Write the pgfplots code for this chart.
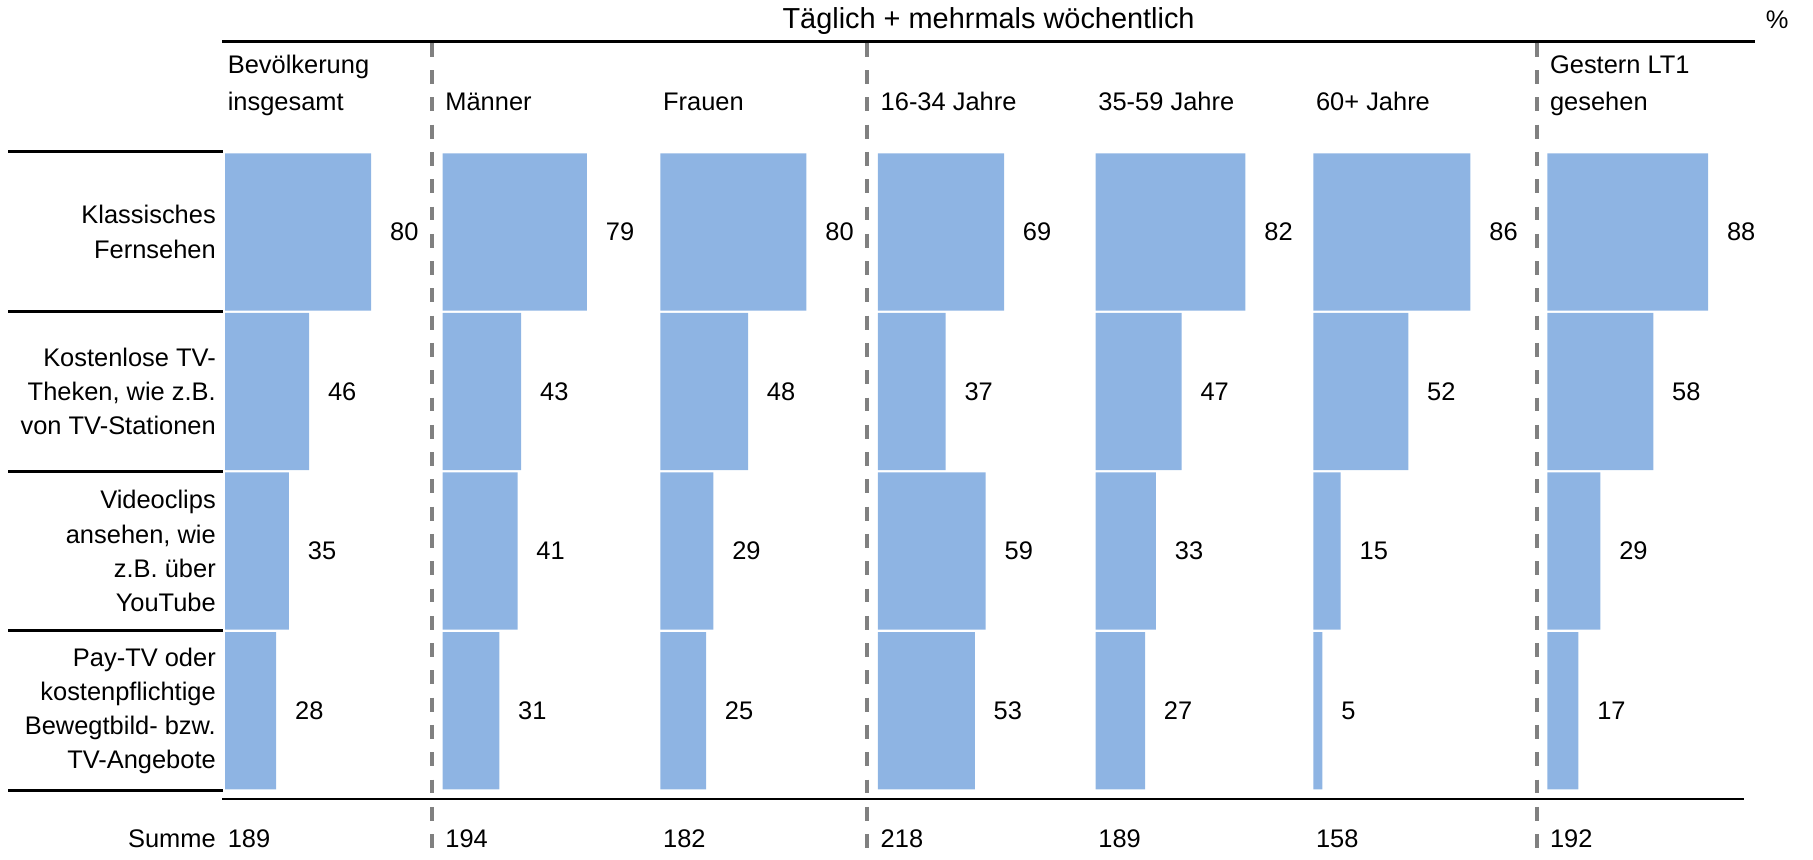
\documentclass[border=0pt]{standalone}
\usepackage{fontspec}
\setmainfont{Liberation Sans}
\usepackage{pgfplots}
\pgfplotsset{compat=1.18}
\usepackage{pgfplotstable}

\definecolor{barblue}{RGB}{142,180,227}
\definecolor{dashgray}{RGB}{128,128,128}

% Anteile in %, Zeilen = Angebote, Spalten = Zielgruppen
\pgfplotstableread{
row ges m f a1 a2 a3 lt1
0 80 79 80 69 82 86 88
1 46 43 48 37 47 52 58
2 35 41 29 59 33 15 29
3 28 31 25 53 27 5 17
}\anteile

\pgfplotsset{
  spalte/.style={
    anchor=north west,
    width=79pt, height=276pt, scale only axis,
    xmin=0, xmax=100, ymin=-0.5, ymax=3.5, y dir=reverse,
    hide axis, clip=false,
    xbar, bar width=68pt,
    point meta=x,
    nodes near coords,
    /pgf/number format/assume math mode=true,
    every node near coord/.append style={anchor=west, inner sep=0pt, xshift=8pt,
      font=\fontsize{11}{13}\selectfont, text=black},
  },
}
\newcommand{\spalte}[2]{%
  \begin{axis}[spalte, at={(#1pt,-65.8pt)}]
    \addplot[fill=barblue, draw=none] table[x=#2, y=row] {\anteile};
  \end{axis}}

\begin{document}
\begin{tikzpicture}[x=0.5pt, y=-0.5pt, font=\fontsize{11}{14.75}\selectfont]
\useasboundingbox (0,0) rectangle (1568,743);

\spalte{97.3}{ges}
\spalte{191.4}{m}
\spalte{285.55}{f}
\spalte{379.65}{a1}
\spalte{473.8}{a2}
\spalte{567.9}{a3}
\spalte{669.1}{lt1}

% Titel
\node[anchor=base, inner sep=0pt, font=\fontsize{12.5}{15}\selectfont] at (855,24.5) {Täglich + mehrmals wöchentlich};
\node[anchor=base, inner sep=0pt] at (1537,24.5) {\%};

% Linien
\draw[line width=1.2pt] (192,36) -- (1518,36);
\draw[line width=1pt] (192,691) -- (1508,691);
\foreach \yy in {131,269.5,407.5,545.5,683.8}
  \draw[line width=1.3pt] (7,\yy) -- (192.6,\yy);
\foreach \xx in {373.3,749.6,1329}
  \draw[dashgray, line width=1.7pt, dash pattern=on 6pt off 5.8pt] (\xx,37) -- (\xx,743);

% Spaltenkoepfe
\node[anchor=base west, inner sep=0pt] at (196.6,63.5) {Bevölkerung};
\node[anchor=base west, inner sep=0pt] at (196.6,96) {insgesamt};
\node[anchor=base west, inner sep=0pt] at (384.8,96) {Männer};
\node[anchor=base west, inner sep=0pt] at (573.1,96) {Frauen};
\node[anchor=base west, inner sep=0pt] at (761.3,96) {16-34 Jahre};
\node[anchor=base west, inner sep=0pt] at (949.6,96) {35-59 Jahre};
\node[anchor=base west, inner sep=0pt] at (1137.8,96) {60+ Jahre};
\node[anchor=base west, inner sep=0pt] at (1340.2,63.5) {Gestern LT1};
\node[anchor=base west, inner sep=0pt] at (1340.2,96) {gesehen};

% Zeilenbeschriftungen
\node[anchor=east, align=right, inner sep=0pt] at (187,200.6) {Klassisches\\Fernsehen};
\node[anchor=east, align=right, inner sep=0pt] at (187,338.6) {Kostenlose TV-\\Theken, wie z.B.\\von TV-Stationen};
\node[anchor=east, align=right, inner sep=0pt] at (187,476.6) {Videoclips\\ansehen, wie\\z.B. über\\YouTube};
\node[anchor=east, align=right, inner sep=0pt] at (187,614.6) {Pay-TV oder\\kostenpflichtige\\Bewegtbild- bzw.\\TV-Angebote};

% Summen
\node[anchor=base east, inner sep=0pt] at (187,733) {Summe};
\node[anchor=base west, inner sep=0pt] at (196.6,733) {189};
\node[anchor=base west, inner sep=0pt] at (384.8,733) {194};
\node[anchor=base west, inner sep=0pt] at (573.1,733) {182};
\node[anchor=base west, inner sep=0pt] at (761.3,733) {218};
\node[anchor=base west, inner sep=0pt] at (949.6,733) {189};
\node[anchor=base west, inner sep=0pt] at (1137.8,733) {158};
\node[anchor=base west, inner sep=0pt] at (1340.2,733) {192};
\end{tikzpicture}
\end{document}
